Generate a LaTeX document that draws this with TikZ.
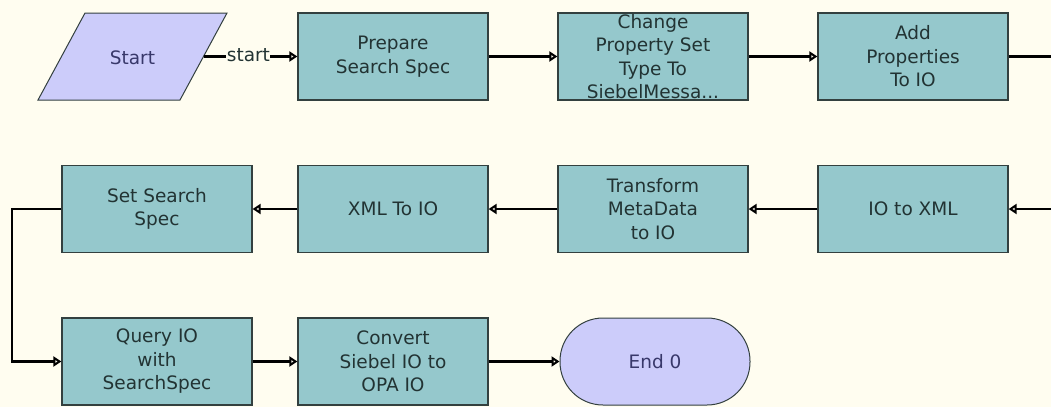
\documentclass[tikz,border=0pt]{standalone}
\usepackage{fontspec}
\setmainfont{DejaVu Sans}
\usetikzlibrary{arrows.meta}
\definecolor{bg}{HTML}{FFFDF0}
\definecolor{boxfill}{HTML}{95C8CC}
\definecolor{termfill}{HTML}{CCCCFA}
\definecolor{edgecol}{HTML}{33403F}
\definecolor{txt}{HTML}{223333}
\definecolor{starttxt}{HTML}{38386A}
\begin{document}
\begin{tikzpicture}[x=1pt,y=-1pt,
  lbl/.style={font=\fontsize{18.5}{23.5}\selectfont},
  task/.style={draw=edgecol,line width=1.3pt,fill=boxfill,minimum width=190pt,minimum height=87pt,
    inner sep=0pt,align=center,text=txt,lbl},
  term/.style={draw=edgecol,line width=1pt,fill=termfill,minimum width=190pt,minimum height=87pt,
    rounded corners=43pt,inner sep=0pt,align=center,text=starttxt,lbl},
  conn/.style={line width=2.6pt,black,-{Triangle[open,length=8pt,width=10pt,line width=2pt]}},
  plain/.style={line width=2.6pt,black}]
\fill[bg] (0,0) rectangle (1051,407);
\useasboundingbox (0,0) rectangle (1051,407);
% Start parallelogram
\draw[edgecol,line width=1pt,fill=termfill] (85,13) -- (227,13) -- (180,100) -- (38,100) -- cycle;
\node[text=starttxt,lbl] (start) at (132.5,58) {Start};
\coordinate (startR) at (203.5,56.5);
% row 1
\node[task] (prep) at (393,56.5) {Prepare\\Search Spec};
\node[task] (chg) at (653,56.5) {Change\\Property Set\\Type To\\SiebelMessa...};
\node[task] (add) at (913,56.5) {Add\\Properties\\To IO};
\coordinate (offR1) at (1051,56.5);
% row 2
\node[task] (setss) at (157,209) {Set Search\\Spec};
\node[task] (xml2io) at (393,209) {XML To IO};
\node[task] (trans) at (653,209) {Transform\\MetaData\\to IO};
\node[task] (io2xml) at (913,209) {IO to XML};
\coordinate (offR2) at (1051,209);
\coordinate (leftB) at (12,209);
% row 3
\node[task] (query) at (157,361.5) {Query IO\\with\\SearchSpec};
\node[task] (conv) at (393,361.5) {Convert\\Siebel IO to\\OPA IO};
\node[term] (end) at (655,361.5) {End 0};
% connectors
\draw[conn] (startR) -- node[fill=bg,inner sep=0.5pt,text=txt,lbl,xshift=-2pt,yshift=1pt] {start} (prep.west);
\draw[conn] (prep.east) -- (chg.west);
\draw[conn] (chg.east) -- (add.west);
\draw[plain] (add.east) -- (offR1);
\draw[conn] (offR2) -- (io2xml.east);
\draw[conn] (io2xml.west) -- (trans.east);
\draw[conn] (trans.west) -- (xml2io.east);
\draw[conn] (xml2io.west) -- (setss.east);
\draw[conn] (setss.west) -- (leftB) |- (query.west);
\draw[conn] (query.east) -- (conv.west);
\draw[conn] (conv.east) -- (end.west);
\end{tikzpicture}
\end{document}
